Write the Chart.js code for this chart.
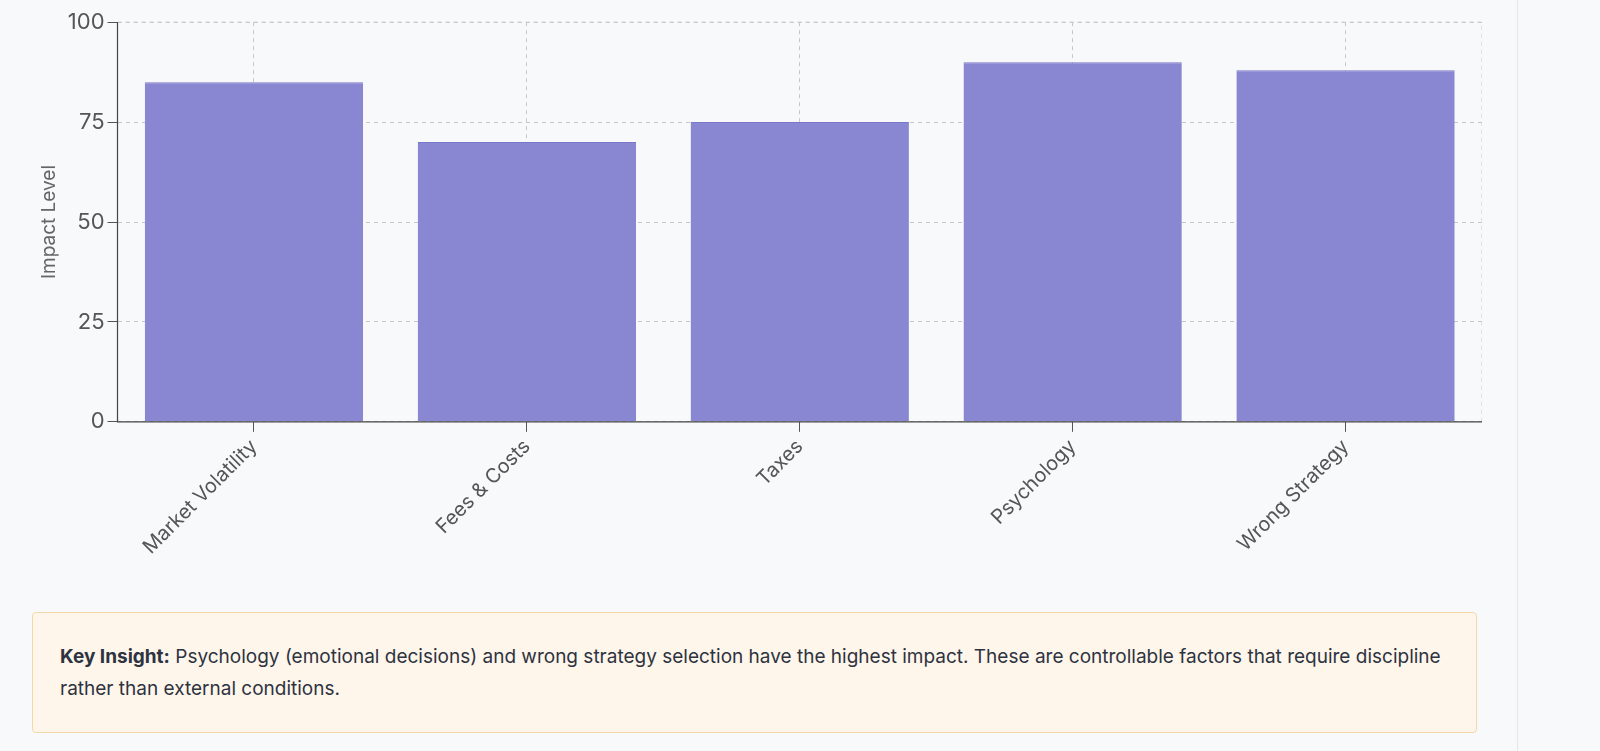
<!DOCTYPE html>
<html>
<head>
    <title>Impact Chart</title>
    <script src="https://cdn.jsdelivr.net/npm/chart.js"></script>
    <style>
        body { margin: 0; background: #f8f9fb; font-family: Inter, "Noto Sans", sans-serif; }
        #wrap { position: absolute; left: 20px; top: 6px; width: 1462px; height: 556px; }
        #edge { position: absolute; left: 1517px; top: 0; width: 1px; height: 751px; background: #e4e6ea; }
        #note {
            position: absolute; left: 32px; top: 612px; width: 1389px; height: 63px;
            padding: 28px 27px; background: #fff6eb; border: 1px solid #f3d9a9; border-radius: 4px;
            color: #2d3340; font-size: 19px; line-height: 32px;
        }
    </style>
</head>
<body>
    <div id="wrap"><canvas id="impactChart"></canvas></div>
    <div id="edge"></div>
    <div id="note"><b>Key Insight:</b> Psychology (emotional decisions) and wrong strategy selection have the highest impact. These are controllable factors that require discipline rather than external conditions.</div>
    <script>
        const categories = ['Market Volatility', 'Fees & Costs', 'Taxes', 'Psychology', 'Wrong Strategy'];
        const impactValues = [85, 70, 75, 90, 88];
        const yTicks = [0, 25, 50, 75, 100];

        const ctx = document.getElementById('impactChart').getContext('2d');
        new Chart(ctx, {
            type: 'bar',
            data: {
                labels: categories,
                datasets: [{
                    label: 'Impact Level',
                    data: impactValues,
                    backgroundColor: '#8986d2',
                    borderColor: '#7a76c8',
                    borderWidth: { top: 1, left: 0, right: 0, bottom: 0 },
                    barPercentage: 0.8,
                    categoryPercentage: 1.0
                }]
            },
            options: {
                responsive: true,
                maintainAspectRatio: false,
                animation: false,
                layout: { padding: { left: 14, right: 0 } },
                plugins: { legend: { display: false }, tooltip: { enabled: false } },
                scales: {
                    x: {
                        grid: { color: '#c8c8c8', offset: false, tickLength: 10, tickColor: '#555', tickBorderDash: [] },
                        border: { display: false, dash: [4, 4] },
                        ticks: { color: '#555', font: { size: 20, family: 'Inter' }, maxRotation: 45, minRotation: 45 }
                    },
                    y: {
                        min: 0, max: 100,
                        afterBuildTicks: axis => { axis.ticks = yTicks.map(v => ({ value: v })); },
                        grid: { color: '#c8c8c8', tickLength: 10, tickColor: '#555', tickBorderDash: [] },
                        border: { display: false, dash: [4, 4] },
                        ticks: { color: '#555', font: { size: 22, family: 'Inter' } },
                        title: { display: true, text: 'Impact Level', color: '#666', font: { size: 19, family: 'Inter' } }
                    }
                }
            },
            plugins: [{
                id: 'frame',
                afterDraw(chart) {
                    const a = chart.chartArea, c = chart.ctx;
                    c.save();
                    c.strokeStyle = '#c8c8c8';
                    c.setLineDash([4, 4]);
                    c.beginPath();
                    c.moveTo(a.left, a.top); c.lineTo(a.right, a.top); c.lineTo(a.right, a.bottom);
                    c.stroke();
                    c.setLineDash([]);
                    c.strokeStyle = '#444';
                    c.lineWidth = 1.2;
                    c.beginPath();
                    c.moveTo(a.left, a.top); c.lineTo(a.left, a.bottom); c.lineTo(a.right, a.bottom);
                    c.stroke();
                    c.restore();
                }
            }]
        });
    </script>
</body>
</html>
